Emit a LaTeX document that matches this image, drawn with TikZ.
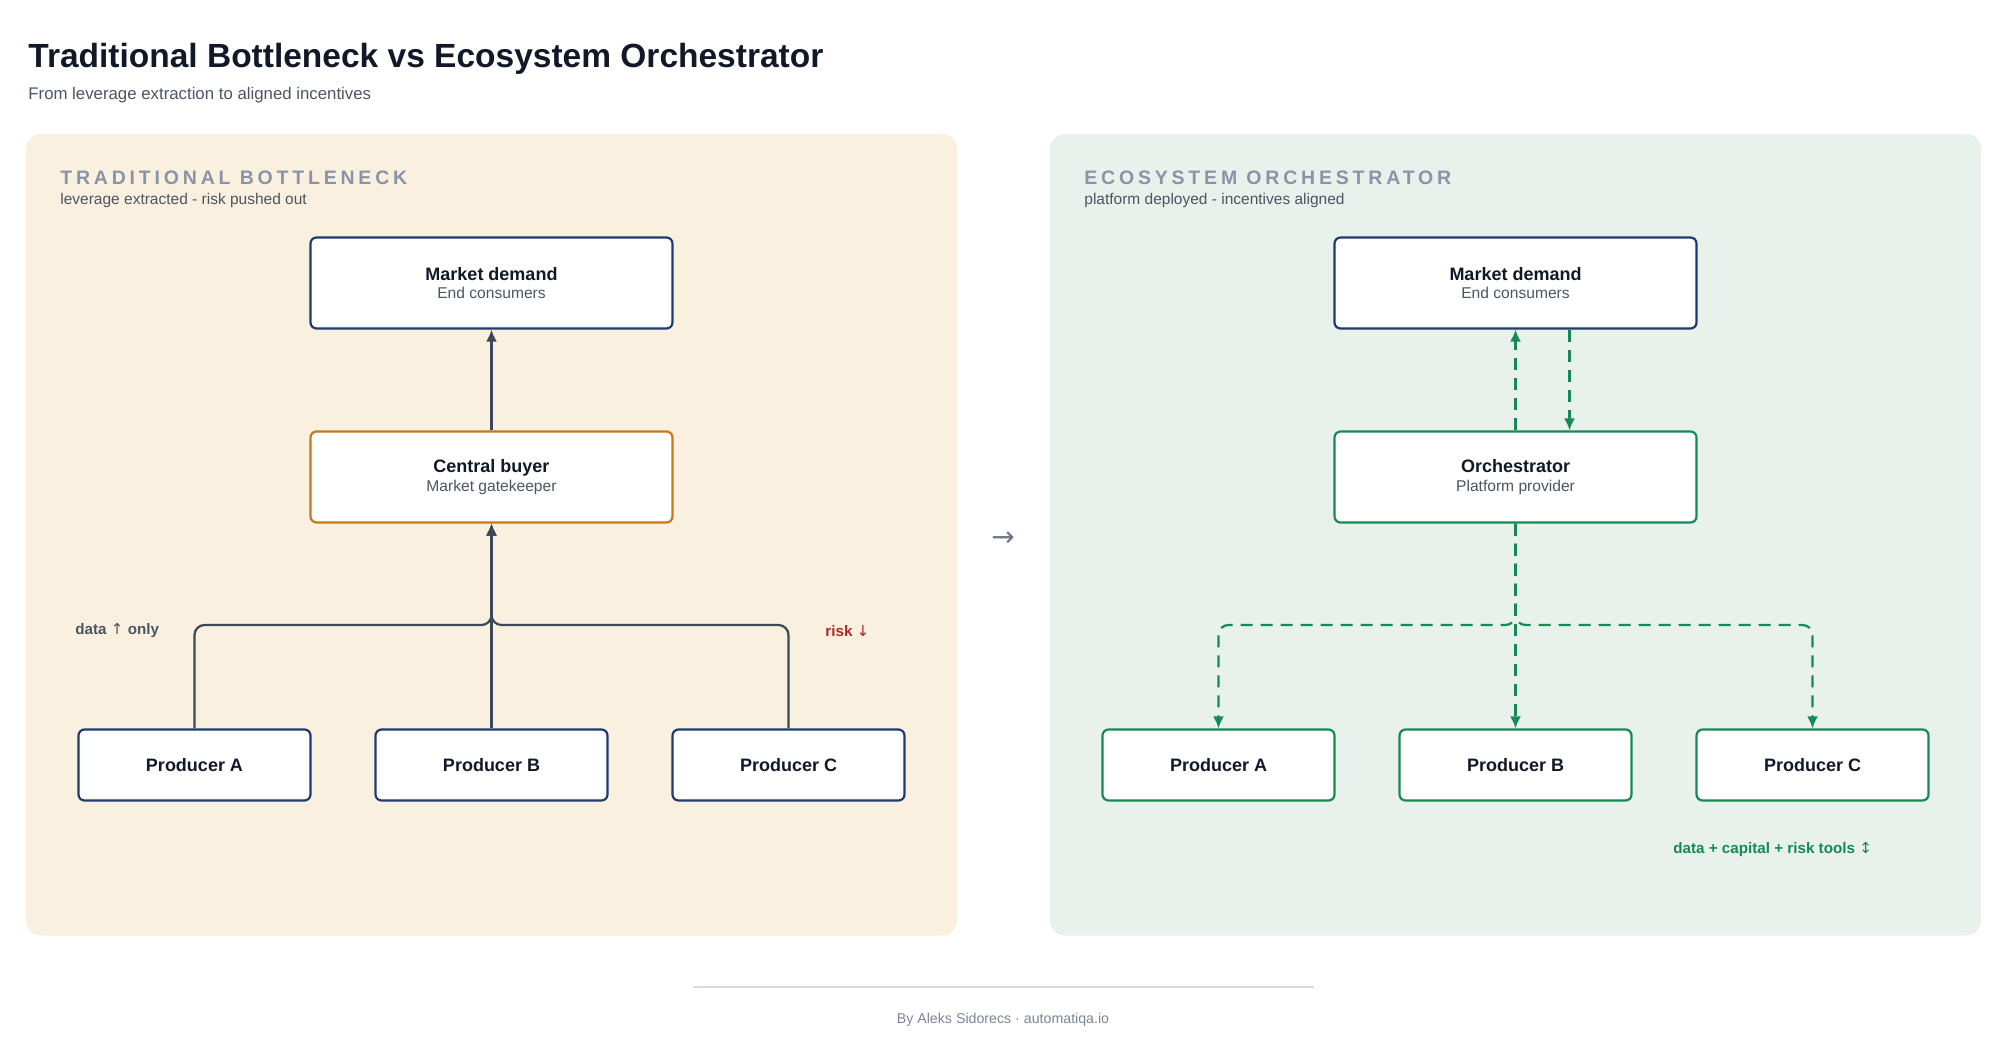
\documentclass[tikz,border=0pt]{standalone}
\usepackage{fontspec}
\setmainfont{Liberation Sans}
\newfontfamily\headfont[LetterSpace=19.5]{Liberation Sans}
\newfontfamily\symfont{DejaVu Sans}
\usetikzlibrary{arrows.meta}

\definecolor{ink}{HTML}{111827}
\definecolor{subgray}{HTML}{4B5563}
\definecolor{headgray}{HTML}{8A94A6}
\definecolor{creampanel}{HTML}{FAF0DF}
\definecolor{greenpanel}{HTML}{E8F1EB}
\definecolor{navy}{HTML}{1E3A6E}
\definecolor{amber}{HTML}{C8771A}
\definecolor{leaf}{HTML}{168A55}
\definecolor{wire}{HTML}{3D4759}
\definecolor{riskred}{HTML}{B42727}
\definecolor{rulegray}{HTML}{D5DAE1}
\definecolor{footgray}{HTML}{7B8494}
\newcommand{\fsz}[2]{\fontsize{#1}{#2}\selectfont}

\begin{document}
\begin{tikzpicture}[x=0.5pt, y=-0.5pt,
    box/.style={draw, fill=white, rounded corners=3pt, line width=1.1pt, minimum width=181pt,
      minimum height=45.5pt, align=center, text=ink, font=\fsz{9}{9.3}\bfseries},
    prod/.style={box, minimum width=116pt, minimum height=35.5pt},
    wire/.style={draw=wire, line width=1.1pt, rounded corners=5pt, -{Latex[length=6pt,width=5.5pt]}},
    flow/.style={draw=leaf, line width=1.1pt, rounded corners=5pt, dash pattern=on 6pt off 4pt,
      -{Latex[length=6pt,width=5.5pt]}},
    note/.style={anchor=west, inner sep=0, font=\fsz{7.6}{9}\bfseries}]
  \useasboundingbox (0,0) rectangle (2000,1042);
  % heading
  \node[anchor=base west, text=ink, font=\fsz{16.75}{20}\bfseries, inner sep=0] (title) at (28,68)
    {Traditional Bottleneck vs Ecosystem Orchestrator};
  \node[anchor=base west, text=subgray, font=\fsz{8.4}{10}, inner sep=0] (subtitle) at (28,100)
    {From leverage extraction to aligned incentives};
  % panels
  \fill[creampanel, rounded corners=7.5pt] (26,134) rectangle (957,935.5);
  \fill[greenpanel, rounded corners=7.5pt] (1050,134) rectangle (1981,935.5);
  \node[anchor=base west, text=headgray, font=\headfont\bfseries\fsz{9.75}{11}, inner sep=0] (headL) at (60,185)
    {TRADITIONAL BOTTLENECK};
  \node[anchor=base west, text=subgray, font=\fsz{7.75}{9}, inner sep=0] (tagL) at (60,205)
    {leverage extracted - risk pushed out};
  \node[anchor=base west, text=headgray, font=\headfont\bfseries\fsz{9.75}{11}, inner sep=0] (headR) at (1084,185)
    {ECOSYSTEM ORCHESTRATOR};
  \node[anchor=base west, text=subgray, font=\fsz{7.75}{9}, inner sep=0] (tagR) at (1084,205)
    {platform deployed - incentives aligned};

  % traditional bottleneck
  \node[box, draw=navy] (mdL) at (491.5,283) {Market demand\\{\mdseries\fsz{7.8}{9.3}\color{subgray}End consumers}};
  \node[box, draw=amber] (buyer) at (491.5,477) {Central buyer\\{\mdseries\fsz{7.8}{9.3}\color{subgray}Market gatekeeper}};
  \node[prod, draw=navy] (pA) at (194.5,765) {Producer A};
  \node[prod, draw=navy] (pB) at (491.5,765) {Producer B};
  \node[prod, draw=navy] (pC) at (788.5,765) {Producer C};
  \coordinate (jL) at (491.5,625);
  \draw[wire] (buyer) -- (mdL);
  \draw[wire] (pA.north) |- (jL) -- (buyer.south);
  \draw[wire] (pC.north) |- (jL) -- (buyer.south);
  \draw[wire] (pB) -- (buyer);
  \node[note, text=subgray] (dataL) at (75,631) {data {\symfont\mdseries↑} only};
  \node[note, text=riskred] (riskL) at (825,631) {risk {\symfont\mdseries↓}};

  \node[text=footgray!90!black, font=\symfont\fsz{14}{16}] (shift) at (1003,539) {→};

  % ecosystem orchestrator
  \node[box, draw=navy] (mdR) at (1515.5,283) {Market demand\\{\mdseries\fsz{7.8}{9.3}\color{subgray}End consumers}};
  \node[box, draw=leaf] (orch) at (1515.5,477) {Orchestrator\\{\mdseries\fsz{7.8}{9.3}\color{subgray}Platform provider}};
  \node[prod, draw=leaf] (qA) at (1218.5,765) {Producer A};
  \node[prod, draw=leaf] (qB) at (1515.5,765) {Producer B};
  \node[prod, draw=leaf] (qC) at (1812.5,765) {Producer C};
  \coordinate (jR) at (1515.5,625);
  \draw[flow] (orch.north) -- (mdR.south);
  \draw[flow] ([xshift=27pt]mdR.south) -- ([xshift=27pt]orch.north);
  \draw[flow] (orch.south) -- (jR) -| (qA.north);
  \draw[flow] (orch.south) -- (jR) -| (qC.north);
  \draw[flow] (orch.south) -- (qB.north);
  \node[note, text=leaf] (toolsR) at (1673,849.5) {data + capital + risk tools {\symfont\mdseries↕}};

  % footer
  \draw[rulegray, line width=0.75pt] (693,987) -- (1314,987);
  \node[text=footgray, font=\fsz{7.1}{8.5}] (credit) at (1003,1020) {By Aleks Sidorecs · automatiqa.io};
\end{tikzpicture}
\end{document}
